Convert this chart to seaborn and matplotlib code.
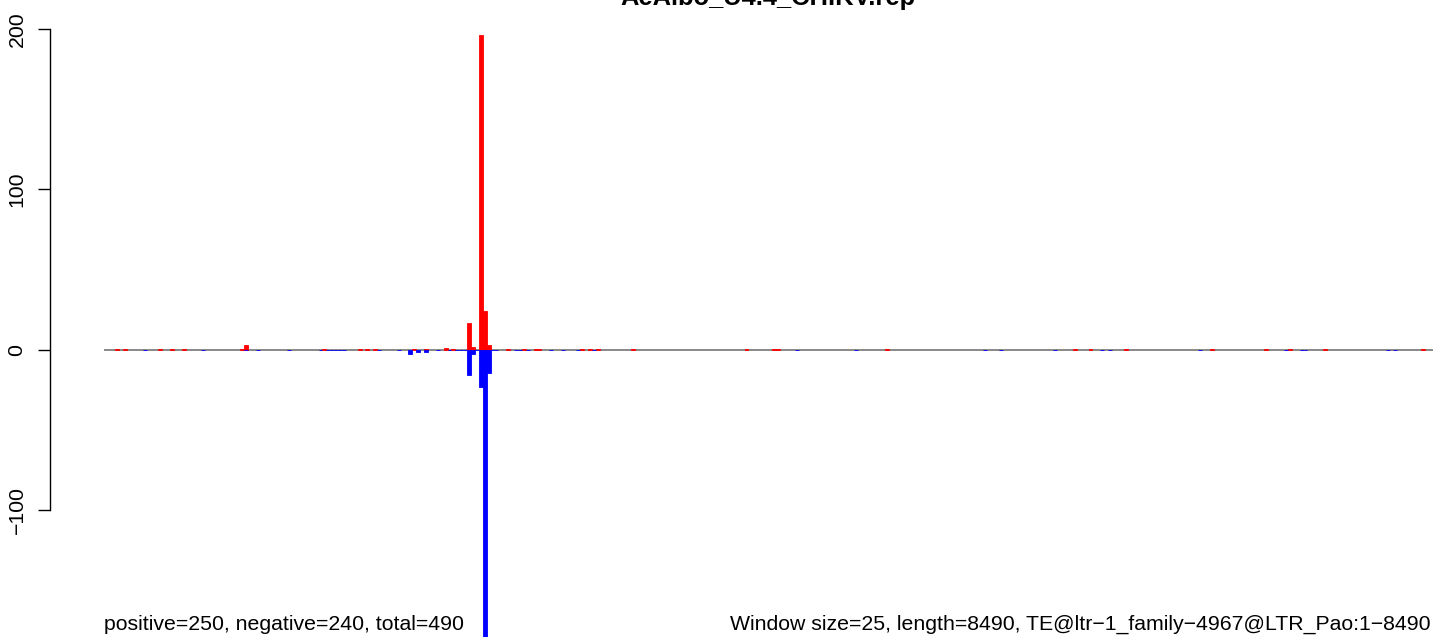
import pandas as pd
import matplotlib
matplotlib.use("Agg")
import matplotlib.pyplot as plt
import seaborn as sns

sns.set_style("white")
plt.rcParams["font.family"] = ["Liberation Sans", "DejaVu Sans"]
plt.rcParams["text.color"] = "black"
plt.rcParams["axes.edgecolor"] = "black"
plt.rcParams["ytick.color"] = "black"
plt.rcParams["ytick.labelcolor"] = "black"

# ---------------------------------
# DATA (window index -> count)
# ---------------------------------

title = "AeAlbo_U4.4_CHIKV.rep"
n_windows = 340

pos_idx = [3, 5, 14, 17, 20, 35, 36, 56, 65, 67, 69, 79, 82, 87, 89,
           93, 94, 96, 97, 98, 103, 107, 110, 111, 122, 124, 126, 135,
           164, 171, 172, 200, 248, 252, 261, 283, 297, 303, 312, 337]
pos_val = [0.3, 0.3, 0.3, 0.3, 0.3, 0.3, 3, 0.3, 0.3, 0.3, 0.3, 0.3, 0.6, 1, 0.3,
           17, 2, 196, 24, 3, 0.3, 0.3, 0.3, 0.3, 0.3, 0.3, 0.3, 0.3,
           0.3, 0.3, 0.3, 0.3, 0.3, 0.3, 0.3, 0.3, 0.3, 0.3, 0.3, 0.3]

neg_idx = [10, 25, 36, 39, 47, 55, 57, 58, 59, 60, 61, 70, 75, 78, 80, 82,
           85, 88, 90, 91, 92, 93, 94, 95, 96, 97, 98, 99, 100, 105, 106,
           108, 114, 117, 121, 125, 177, 192, 225, 229, 243, 255, 257, 280,
           302, 306, 307, 328, 330]
neg_val = [-0.3, -0.3, -0.3, -0.3, -0.3, -0.3, -0.3, -0.3, -0.3, -0.3, -0.3,
           -0.3, -0.3, -2.5, -1.2, -1.5, -0.3, -0.3, -0.3, -0.3, -0.3, -16,
           -2.5, -0.3, -23, -180, -14.5, -0.3, -0.3, -0.3, -0.3, -0.3, -0.3,
           -0.3, -0.3, -0.3, -0.3, -0.3, -0.3, -0.3, -0.3, -0.3, -0.3, -0.3,
           -0.3, -0.3, -0.3, -0.3, -0.3]

y_ticks = [-100, 0, 100, 200]

left_note = "positive=250, negative=240, total=490"
right_note = "Window size=25, length=8490, TE@ltr\u22121_family\u22124967@LTR_Pao:1\u22128490"

df = pd.concat([
    pd.DataFrame({"window": pos_idx, "count": pos_val, "strand": "pos"}),
    pd.DataFrame({"window": neg_idx, "count": neg_val, "strand": "neg"}),
])

# ---------------------------------
# PLOT
# ---------------------------------

fig = plt.figure(figsize=(14.33, 6.37), dpi=100)
ax = fig.add_axes([104 / 1433, 0, 1329 / 1433, 1])

ax.axhline(0, color="#808080", lw=1.3, zorder=0.5)

sns.barplot(
    data=df, x="window", y="count", hue="strand",
    palette={"pos": "#FF0000", "neg": "#0000FF"}, saturation=1,
    native_scale=True, dodge=False, width=1, linewidth=0,
    errorbar=None, legend=False, ax=ax
)

# outline each bar in its own colour so near-zero windows still show
for p in ax.patches:
    p.set_edgecolor(p.get_facecolor())
    p.set_linewidth(0.6)

ax.set_xlim(-0.38, n_windows - 0.38)
ax.set_ylim(-179, 218)
ax.set_xlabel("")
ax.set_ylabel("")
ax.set_xticks([])

for s in ["top", "right", "bottom"]:
    ax.spines[s].set_visible(False)
ax.spines["left"].set_position(("outward", 38.9))
ax.spines["left"].set_bounds(-100, 200)
ax.spines["left"].set_linewidth(1.0)
ax.set_yticks(y_ticks)
ax.set_yticklabels([str(t).replace("-", "\u2212") for t in y_ticks],
                   rotation=90, va="center", fontsize=15.3)
ax.tick_params(axis="y", left=True, length=8.6, width=1.0, pad=8.3)

fig.text(768 / 1433, 1 - 5 / 637, title, ha="center", va="baseline",
         fontsize=18.4, fontweight="bold")
fig.text(104 / 1433, 1 - 630 / 637, left_note, ha="left", va="baseline",
         fontsize=15.3)
fig.text(1431 / 1433, 1 - 630 / 637, right_note, ha="right", va="baseline",
         fontsize=15.3)

fig.savefig("out.png", dpi=100)
